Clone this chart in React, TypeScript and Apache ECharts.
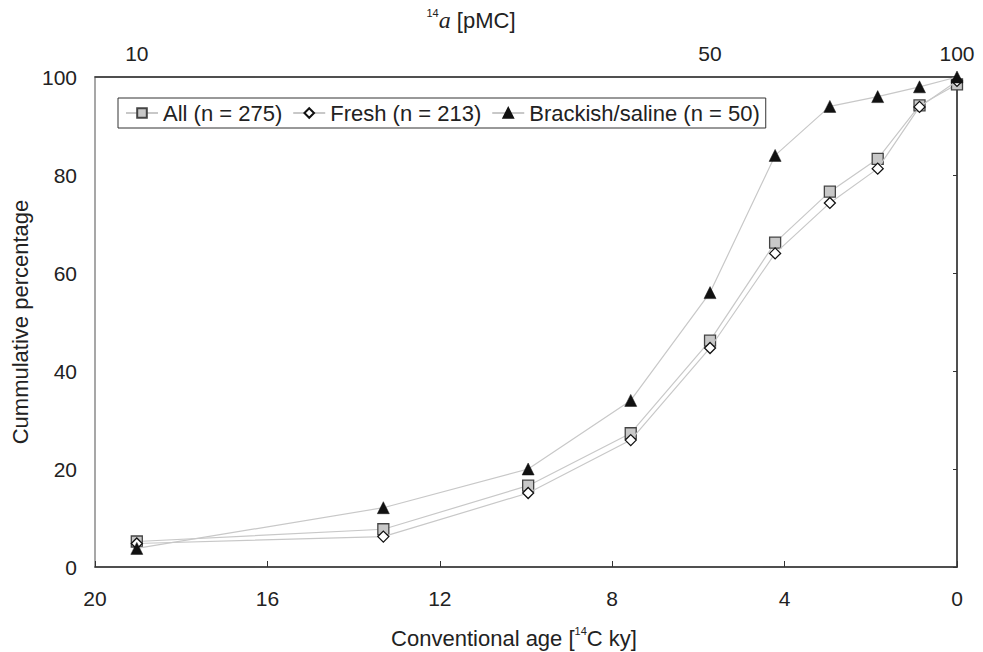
import React, { useEffect, useRef } from "react";
import * as echarts from "echarts";

// Conventional 14C age (ky) of each class boundary (corresponds to 10..100 pMC)
const ages = [19.03, 13.31, 9.95, 7.57, 5.73, 4.22, 2.95, 1.84, 0.87, 0];
const allValues = [5.2, 7.7, 16.6, 27.3, 46.2, 66.2, 76.6, 83.3, 94.2, 98.5];
const freshValues = [4.8, 6.2, 15.1, 25.9, 44.7, 64.0, 74.3, 81.3, 93.9, 99.2];
const brackishValues = [3.8, 12.1, 20.0, 34.0, 56.0, 84.0, 94.0, 96.0, 98.0, 100.0];
const seriesNames = ["All (n = 275)", "Fresh (n = 213)", "Brackish/saline (n = 50)"];
const topTickAges = [19.03, 5.73, 0];
const topTickLabels = ["10", "50", "100"];

const FONT = "Liberation Sans, Arial, sans-serif";

export default function App() {
  const ref = useRef<HTMLDivElement>(null);
  useEffect(() => {
    if (!ref.current) return;
    const chart = echarts.init(ref.current, null, { renderer: "svg" });
    const pair = (vals: number[]) => ages.map((a, i) => [a, vals[i]]);
    const lineStyle = { color: "#c8c8c8", width: 1.2 };
    chart.setOption({
      animation: false,
      textStyle: { fontFamily: FONT },
      grid: {
        left: 87,
        right: 18,
        top: 69,
        bottom: 85,
        containLabel: false,
        outerBoundsMode: "none",
        show: true,
        borderColor: "#8a8a8a",
        borderWidth: 1.5,
      },
      legend: {
        left: 110,
        top: 90,
        orient: "horizontal",
        data: seriesNames,
        borderColor: "#333",
        borderWidth: 1,
        padding: [4, 6, 4, 7],
        itemWidth: 32,
        itemHeight: 12,
        itemGap: 10,
        textStyle: { fontSize: 22, color: "#222", fontFamily: FONT },
      },
      xAxis: [
        {
          type: "value",
          position: "bottom",
          min: 0,
          max: 20,
          interval: 4,
          inverse: true,
          axisLine: { show: true, lineStyle: { color: "#333", width: 1.5 } },
          axisTick: { show: true, inside: true, length: 6, lineStyle: { color: "#333" } },
          axisLabel: { fontSize: 21, color: "#222", margin: 21, fontFamily: FONT },
          splitLine: { show: false },
          name: "{t|Conventional age [}{s|14}{t|C ky]}",
          nameLocation: "middle",
          nameGap: 58,
          nameTextStyle: {
            fontFamily: FONT,
            padding: [0, 24, 0, 0],
            rich: {
              t: { fontSize: 22, color: "#222", fontFamily: FONT, lineHeight: 26 },
              s: { fontSize: 11, color: "#222", fontFamily: FONT, verticalAlign: "top", lineHeight: 26, padding: [0, 0, 11, 0] },
            },
          },
        },
        {
          type: "value",
          position: "top",
          min: 0,
          max: 20,
          inverse: true,
          axisLine: { show: true, onZero: false, lineStyle: { color: "#333", width: 1.5 } },
          axisTick: { show: false },
          axisLabel: {
            fontSize: 21,
            color: "#222",
            margin: 13,
            fontFamily: FONT,
            customValues: topTickAges,
            formatter: (v: number) => {
              const i = topTickAges.findIndex((a) => Math.abs(a - v) < 1e-6);
              return i >= 0 ? topTickLabels[i] : "";
            },
          },
          splitLine: { show: false },
          name: "{s|14}{i|a}{t| [pMC]}",
          nameLocation: "middle",
          nameGap: 44,
          nameTextStyle: {
            fontFamily: FONT,
            padding: [0, 110, 0, 0],
            rich: {
              t: { fontSize: 22, color: "#222", fontFamily: FONT, lineHeight: 26 },
              i: { fontSize: 24, color: "#222", fontFamily: "Liberation Serif, Times New Roman, serif", fontStyle: "italic", lineHeight: 26 },
              s: { fontSize: 11, color: "#222", fontFamily: FONT, verticalAlign: "top", lineHeight: 26, padding: [0, 0, 11, 0] },
            },
          },
        },
      ],
      yAxis: {
        type: "value",
        min: 0,
        max: 100,
        interval: 20,
        axisLine: { show: true, lineStyle: { color: "#333", width: 1.5 } },
        axisTick: { show: true, inside: false, length: 4, lineStyle: { color: "#333" } },
        axisLabel: { fontSize: 21, color: "#222", margin: 18, fontFamily: FONT },
        splitLine: { show: false },
        name: "Cummulative percentage",
        nameLocation: "middle",
        nameGap: 63,
        nameTextStyle: { fontSize: 22, color: "#222", fontFamily: FONT },
      },
      series: [
        {
          name: seriesNames[0],
          type: "line",
          xAxisIndex: 0,
          data: pair(allValues),
          symbol: "rect",
          symbolSize: 11,
          lineStyle,
          itemStyle: { color: "#c8c8c8", borderColor: "#444", borderWidth: 1.3 },
          z: 2,
        },
        {
          name: seriesNames[1],
          type: "line",
          xAxisIndex: 0,
          data: pair(freshValues),
          symbol: "diamond",
          symbolSize: 11,
          lineStyle,
          itemStyle: { color: "#ffffff", borderColor: "#111", borderWidth: 1.3 },
          z: 3,
        },
        {
          name: seriesNames[2],
          type: "line",
          xAxisIndex: 0,
          data: pair(brackishValues),
          symbol: "triangle",
          symbolSize: 12,
          lineStyle,
          itemStyle: { color: "#111", borderColor: "#111", borderWidth: 0.5 },
          z: 4,
        },
      ],
    });
    return () => chart.dispose();
  }, []);
  return <div ref={ref} style={{ width: 967, height: 644 }} />;
}
